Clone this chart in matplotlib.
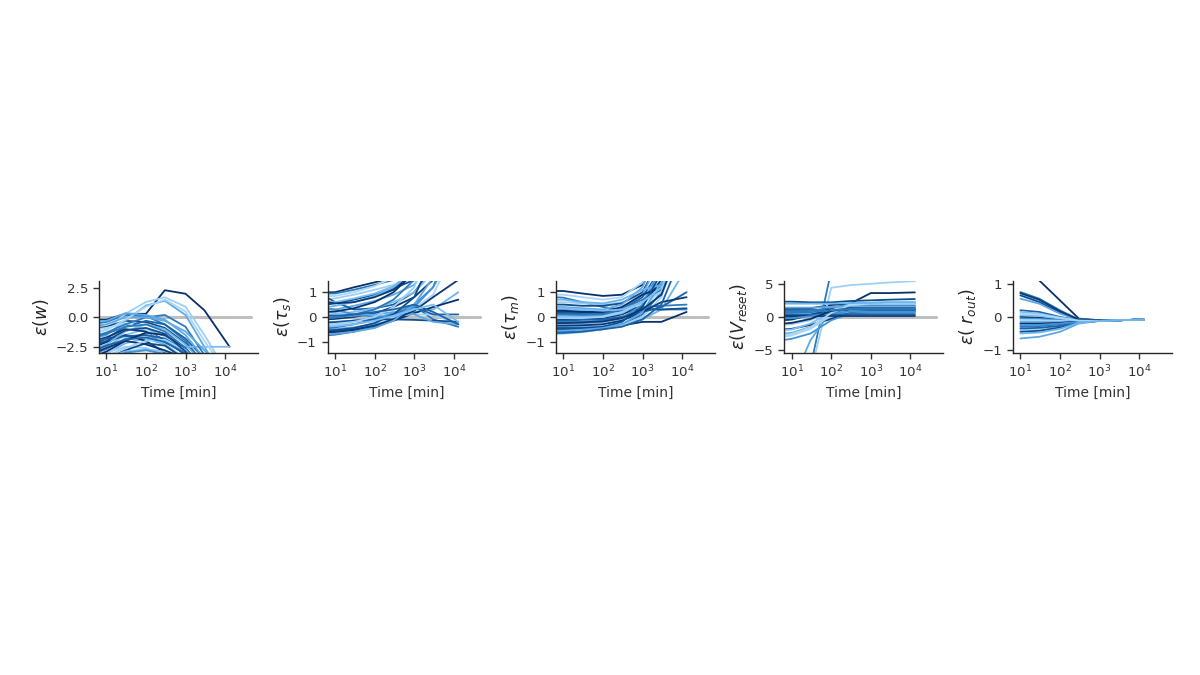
import numpy as np
import matplotlib
matplotlib.use("Agg")
import matplotlib.pyplot as plt
import matplotlib.ticker as mticker
import seaborn as sns

sns.set_theme(style="ticks", context="paper")
plt.rcParams["font.family"] = ["DejaVu Sans"]

# ========== Data ==========
TIME = [6, 10, 30, 100, 300, 1000, 3000, 13000]
TIME_ROUT = [10, 30, 100, 300, 1000, 3000, 13000]

err_w = [
    [-0.2, -0.2, 0.3, 0.3, 2.3, 2.0, 0.6, -2.5],
    [-0.5, -0.4, 0.2, 0.1, -0.6, -2.0, -4.0, -6.0],
    [-1.3, -1.0, 0.3, 1.3, 1.7, 0.9, -1.5, -5.0],
    [-0.9, -0.8, -0.3, -0.4, -0.9, -2.2, -4.0, -6.0],
    [-1.7, -1.5, -0.3, 1.0, 1.4, 0.2, -2.5, -6.0],
    [-2.2, -1.8, -0.8, -0.3, -0.6, -1.8, -3.5, -6.0],
    [-2.8, -2.5, -1.5, -1.0, -1.6, -2.5, -2.5, -2.5],
    [-1.9, -1.7, -1.0, -1.2, -1.9, -3.2, -5.0, -6.0],
    [-3.0, -2.7, -1.8, -1.5, -2.0, -3.0, -5.0, -6.0],
    [-1.0, -0.9, -0.5, -1.0, -2.2, -3.8, -5.0, -6.0],
    [-3.5, -3.1, -2.2, -1.8, -2.3, -3.5, -5.0, -6.0],
    [-2.4, -2.1, -1.5, -2.0, -3.0, -4.0, -6.0, -7.0],
    [-1.5, -1.3, -0.6, 0.0, 0.2, -0.8, -3.2, -6.0],
    [-3.3, -3.0, -2.5, -2.6, -3.3, -5.0, -6.0, -7.0],
    [-4.0, -3.5, -2.8, -2.2, -2.4, -3.6, -6.0, -7.0],
    [-0.7, -0.6, 0.0, 0.0, -0.3, -1.2, -2.8, -5.0],
    [-2.0, -1.8, -1.6, -1.5, -1.8, -2.8, -4.0, -6.0],
    [-3.8, -3.4, -2.9, -2.7, -2.9, -3.5, -5.0, -7.0],
    [-2.9, -2.6, -2.0, -2.3, -2.8, -3.5, -5.0, -7.0],
    [-4.0, -3.8, -3.0, -2.8, -3.1, -4.0, -6.0, -7.0],
    [-1.2, -1.1, -0.2, 0.9, 1.5, 0.5, -2.0, -5.0],
    [-2.6, -2.3, -1.2, -0.6, -1.0, -2.3, -4.0, -6.0],
    [-3.2, -2.9, -2.0, -1.3, -1.5, -2.6, -4.5, -6.0],
    [-1.6, -1.4, -0.8, -0.6, -1.2, -2.6, -4.5, -6.0],
    [-3.6, -3.3, -2.6, -2.0, -1.9, -2.8, -4.5, -6.0],
    [-2.3, -2.0, -1.1, -0.9, -1.4, -2.9, -4.5, -6.0],
    [-0.3, -0.3, 0.35, 0.2, -0.2, -1.5, -3.5, -6.0],
    [-2.7, -2.4, -1.9, -1.7, -2.1, -3.1, -5.0, -6.0],
]

err_tau_s = [
    [1.0, 1.0, 1.2, 1.4, 1.6, 2.0, 3.0, 4.0],
    [0.95, 0.95, 1.1, 1.3, 1.5, 2.0, 3.0, 4.0],
    [0.7, 0.75, 0.9, 1.1, 1.3, 1.7, 3.0, 4.0],
    [0.5, 0.55, 0.7, 0.9, 1.15, 1.5, 3.0, 4.0],
    [0.3, 0.3, 0.45, 0.65, 0.9, 1.3, 2.5, 4.0],
    [0.8, 0.6, 0.3, 0.35, 0.5, 1.0, 2.0, 4.0],
    [0.1, 0.12, 0.2, 0.35, 0.6, 1.0, 1.8, 4.0],
    [-0.1, -0.08, 0.0, 0.15, 0.4, 0.8, 1.5, 4.0],
    [-0.2, -0.2, -0.15, -0.05, 0.15, 0.5, 1.2, 4.0],
    [-0.35, -0.33, -0.28, -0.18, 0.0, 0.35, 0.9, 3.0],
    [-0.5, -0.48, -0.42, -0.3, -0.1, 0.2, 0.3, 1.0],
    [-0.65, -0.63, -0.55, -0.4, -0.15, 0.15, 0.4, 0.7],
    [-0.75, -0.72, -0.6, -0.4, -0.1, 0.45, -0.1, -0.4],
    [0.2, 0.2, 0.1, 0.05, 0.05, 0.1, 0.1, -0.3],
    [-0.25, -0.22, -0.15, -0.1, -0.1, -0.12, -0.15, -0.2],
    [0.0, 0.0, 0.05, 0.1, 0.2, 0.1, -0.2, -0.3],
    [-0.45, -0.42, -0.3, -0.1, 0.1, 0.4, 0.1, 0.1],
    [0.6, 0.6, 0.75, 0.95, 1.25, 1.6, 3.0, 4.0],
    [-0.6, -0.58, -0.5, -0.35, -0.1, 0.25, 0.8, 1.5],
    [0.35, 0.3, 0.1, 0.0, 0.05, 0.4, 1.2, 3.0],
    [0.85, 0.85, 1.0, 1.25, 1.6, 2.5, 4.0, 5.0],
    [0.4, 0.45, 0.6, 0.85, 1.2, 2.0, 4.0, 5.0],
    [0.2, 0.22, 0.35, 0.6, 1.0, 1.8, 4.0, 5.0],
    [-0.05, -0.03, 0.1, 0.3, 0.7, 1.5, 3.5, 5.0],
    [-0.3, -0.28, -0.2, 0.0, 0.4, 1.2, 3.0, 5.0],
    [-0.55, -0.53, -0.45, -0.25, 0.1, 0.8, 2.5, 5.0],
    [-0.7, -0.68, -0.6, -0.45, -0.15, 0.5, 1.6, 5.0],
    [0.05, 0.05, 0.1, 0.2, 0.3, 0.5, 0.2, -0.3],
    [-0.4, -0.38, -0.3, -0.15, 0.05, 0.3, 0.5, -0.2],
    [0.6, 0.55, 0.6, 0.8, 1.1, 1.8, 3.5, 5.0],
]

err_tau_m = [
    [1.05, 1.05, 0.95, 0.85, 0.9, 1.3, 2.5, 4.0],
    [0.8, 0.78, 0.6, 0.4, 0.3, 0.4, 0.45, 0.5],
    [0.6, 0.6, 0.55, 0.5, 0.6, 0.9, 1.5, 4.0],
    [0.5, 0.5, 0.45, 0.45, 0.55, 1.0, 2.5, 4.0],
    [0.3, 0.3, 0.25, 0.2, 0.35, 0.9, 2.5, 4.0],
    [0.15, 0.15, 0.12, 0.12, 0.3, 0.8, 2.0, 4.0],
    [0.05, 0.05, 0.05, 0.08, 0.2, 0.6, 1.5, 4.0],
    [-0.1, -0.1, -0.08, -0.05, 0.1, 0.45, 1.5, 4.0],
    [-0.2, -0.2, -0.2, -0.15, 0.0, 0.35, 0.3, 0.3],
    [-0.3, -0.3, -0.3, -0.25, -0.1, 0.25, 1.2, 4.0],
    [-0.4, -0.4, -0.4, -0.38, -0.3, -0.1, 0.3, 2.0],
    [-0.5, -0.5, -0.5, -0.45, -0.35, -0.2, -0.2, 0.2],
    [-0.6, -0.6, -0.58, -0.5, -0.3, 0.1, 1.0, 4.0],
    [-0.7, -0.68, -0.62, -0.5, -0.35, 0.0, 0.8, 4.0],
    [0.2, 0.2, 0.2, 0.2, 0.25, 0.3, 0.3, 0.35],
    [0.4, 0.4, 0.35, 0.3, 0.5, 1.2, 3.0, 4.0],
    [-0.15, -0.15, -0.12, -0.1, 0.0, 0.2, 0.4, 1.0],
    [0.0, 0.0, 0.0, 0.0, 0.15, 0.6, 2.0, 4.0],
    [-0.35, -0.35, -0.34, -0.3, -0.15, 0.2, 0.6, 0.8],
    [-0.25, -0.25, -0.25, -0.2, -0.05, 0.5, 2.0, 4.0],
    [0.9, 0.9, 0.8, 0.7, 0.8, 1.4, 3.0, 5.0],
    [0.7, 0.7, 0.6, 0.55, 0.7, 1.1, 1.3, 5.0],
    [0.25, 0.25, 0.2, 0.2, 0.4, 0.9, 1.2, 5.0],
    [0.1, 0.1, 0.08, 0.1, 0.3, 0.7, 1.1, 5.0],
    [-0.05, -0.05, -0.05, 0.0, 0.2, 0.6, 1.0, 5.0],
    [-0.45, -0.45, -0.45, -0.4, -0.2, 0.4, 1.8, 5.0],
    [-0.55, -0.55, -0.52, -0.45, -0.3, 0.2, 1.4, 5.0],
    [-0.65, -0.65, -0.6, -0.5, -0.4, -0.1, 0.5, 3.0],
    [0.35, 0.35, 0.3, 0.25, 0.3, 0.6, 1.2, 4.0],
    [-0.25, -0.25, -0.22, -0.18, -0.05, 0.3, 0.9, 3.5],
]

err_v_reset = [
    [1.2, 1.2, 1.3, 1.8, 2.0, 3.6, 3.6, 3.7],
    [-40.0, -30.0, -7.5, 7.0, 12.0, 14.0, 15.0, 16.0],
    [-40.0, -30.0, -8.5, 4.4, 4.8, 5.0, 5.2, 5.4],
    [2.3, 2.3, 2.2, 2.2, 2.4, 2.5, 2.6, 2.7],
    [-15.0, -10.0, -3.5, 1.0, 1.2, 1.2, 1.2, 1.2],
    [1.0, 1.0, 1.0, 1.0, 1.0, 1.0, 1.0, 1.0],
    [0.5, 0.5, 0.5, 0.5, 0.5, 0.5, 0.5, 0.5],
    [-1.9, -1.8, -1.2, -0.3, 0.6, 0.8, 0.8, 0.8],
    [-3.5, -3.3, -2.5, -0.5, 0.5, 0.7, 0.7, 0.7],
    [-3.0, -2.8, -1.8, 0.2, 1.0, 1.2, 1.2, 1.2],
    [-2.5, -2.4, -1.5, 0.5, 1.5, 1.7, 1.7, 1.7],
    [-0.5, -0.4, 0.3, 1.2, 1.5, 1.6, 1.6, 1.6],
    [0.8, 0.8, 0.9, 1.4, 1.9, 2.0, 2.0, 2.0],
    [-1.2, -1.1, -0.5, 1.0, 1.9, 2.2, 2.3, 2.3],
    [0.0, 0.0, 0.2, 0.8, 1.1, 1.1, 1.1, 1.1],
    [1.4, 1.4, 1.4, 1.5, 1.6, 1.6, 1.6, 1.6],
    [0.3, 0.3, 0.35, 0.4, 0.4, 0.4, 0.4, 0.4],
    [-2.0, -1.9, -1.0, 0.8, 1.3, 1.4, 1.4, 1.4],
    [0.2, 0.2, 0.2, 0.2, 0.2, 0.2, 0.2, 0.2],
    [-0.2, -0.2, 0.1, 0.6, 0.8, 0.8, 0.8, 0.8],
    [-2.8, -2.6, -1.6, 0.6, 1.8, 2.0, 2.0, 2.0],
    [2.0, 2.0, 2.0, 2.0, 2.1, 2.1, 2.2, 2.2],
    [-1.0, -0.9, -0.3, 0.9, 1.3, 1.3, 1.3, 1.3],
    [0.6, 0.6, 0.7, 1.0, 1.2, 1.2, 1.2, 1.2],
]

err_r_out = [
    [1.6, 1.1, 0.5, -0.05, -0.1, -0.1, -0.08],
    [0.75, 0.55, 0.2, -0.08, -0.1, -0.1, -0.08],
    [0.7, 0.5, 0.15, -0.08, -0.1, -0.1, -0.08],
    [0.65, 0.45, 0.12, -0.08, -0.1, -0.1, -0.08],
    [0.55, 0.4, 0.1, -0.08, -0.1, -0.1, -0.08],
    [0.2, 0.15, 0.0, -0.1, -0.12, -0.1, -0.08],
    [0.15, 0.1, -0.02, -0.1, -0.12, -0.1, -0.08],
    [0.0, -0.02, -0.08, -0.12, -0.12, -0.1, -0.08],
    [-0.05, -0.06, -0.1, -0.12, -0.12, -0.1, -0.08],
    [-0.1, -0.1, -0.12, -0.13, -0.12, -0.1, -0.08],
    [-0.15, -0.15, -0.15, -0.13, -0.12, -0.1, -0.08],
    [-0.2, -0.2, -0.18, -0.14, -0.12, -0.1, -0.08],
    [-0.3, -0.28, -0.22, -0.15, -0.12, -0.1, -0.08],
    [-0.4, -0.38, -0.3, -0.17, -0.12, -0.1, -0.08],
    [-0.45, -0.42, -0.32, -0.17, -0.12, -0.1, -0.08],
    [-0.65, -0.6, -0.45, -0.2, -0.12, -0.1, -0.08],
    [-0.35, -0.33, -0.27, -0.16, -0.12, -0.1, -0.08],
    [0.05, 0.03, -0.05, -0.11, -0.12, -0.1, -0.08],
    [0.72, 0.52, 0.17, -0.08, -0.1, -0.1, -0.08],
    [-0.25, -0.24, -0.2, -0.15, -0.12, -0.1, -0.08],
    [0.1, 0.07, -0.03, -0.11, -0.12, -0.1, -0.08],
    [-0.5, -0.47, -0.36, -0.18, -0.12, -0.1, -0.08],
]

ylabels = [r"$\varepsilon(w)$", r"$\varepsilon(\tau_s)$", r"$\varepsilon(\tau_m)$",
           r"$\varepsilon(V_{reset})$", r"$\varepsilon(\ r_{out})$"]
yticks = [[-2.5, 0.0, 2.5], [-1, 0, 1], [-1, 0, 1], [-5, 0, 5], [-1, 0, 1]]
ytick_labels = [["\u22122.5", "0.0", "2.5"], ["\u22121", "0", "1"], ["\u22121", "0", "1"],
                ["\u22125", "0", "5"], ["\u22121", "0", "1"]]
ylims = [(-3.0, 3.07), (-1.45, 1.45), (-1.45, 1.45), (-5.4, 5.4), (-1.08, 1.08)]

# ========== Plot ==========
BLUES = ["#08306b", "#2b7bba", "#9dd0f7", "#0f4d8c", "#5fa8e6", "#1b62a8",
         "#7fbdf0", "#0a3a75", "#4292d6", "#aad6f7", "#6cb4ec"]

panels = [(TIME, err_w), (TIME, err_tau_s), (TIME, err_tau_m),
          (TIME, err_v_reset), (TIME_ROUT, err_r_out)]

fig = plt.figure(figsize=(12, 6.75), dpi=100)
lefts = [99, 327.7, 556, 784.3, 1013]

for k, (t, series) in enumerate(panels):
    ax = fig.add_axes([lefts[k] / 1200, 0.4775, 0.1325, 0.106])
    if k < 4:
        ax.plot([6.5, 45000], [0, 0], color="0.75", lw=2.2, zorder=1)
    for i, vals in enumerate(series):
        ax.plot(t, vals, color=BLUES[i % len(BLUES)], lw=1.3, zorder=2)
    ax.set_xscale("log")
    ax.set_xlim(6.5, 68000)
    ax.set_ylim(*ylims[k])
    ax.set_xticks([10, 100, 1000, 10000])
    ax.xaxis.set_minor_locator(mticker.NullLocator())
    ax.set_yticks(yticks[k])
    ax.set_yticklabels(ytick_labels[k])
    ax.tick_params(labelsize=9.6, length=4.5, width=1, colors="0.2")
    ax.set_xlabel("Time [min]", fontsize=10, color="0.2")
    ax.set_ylabel(ylabels[k], fontsize=12.5, color="0.15", labelpad=3)
    sns.despine(ax=ax)

plt.savefig("out.png", dpi=100)
plt.close()
